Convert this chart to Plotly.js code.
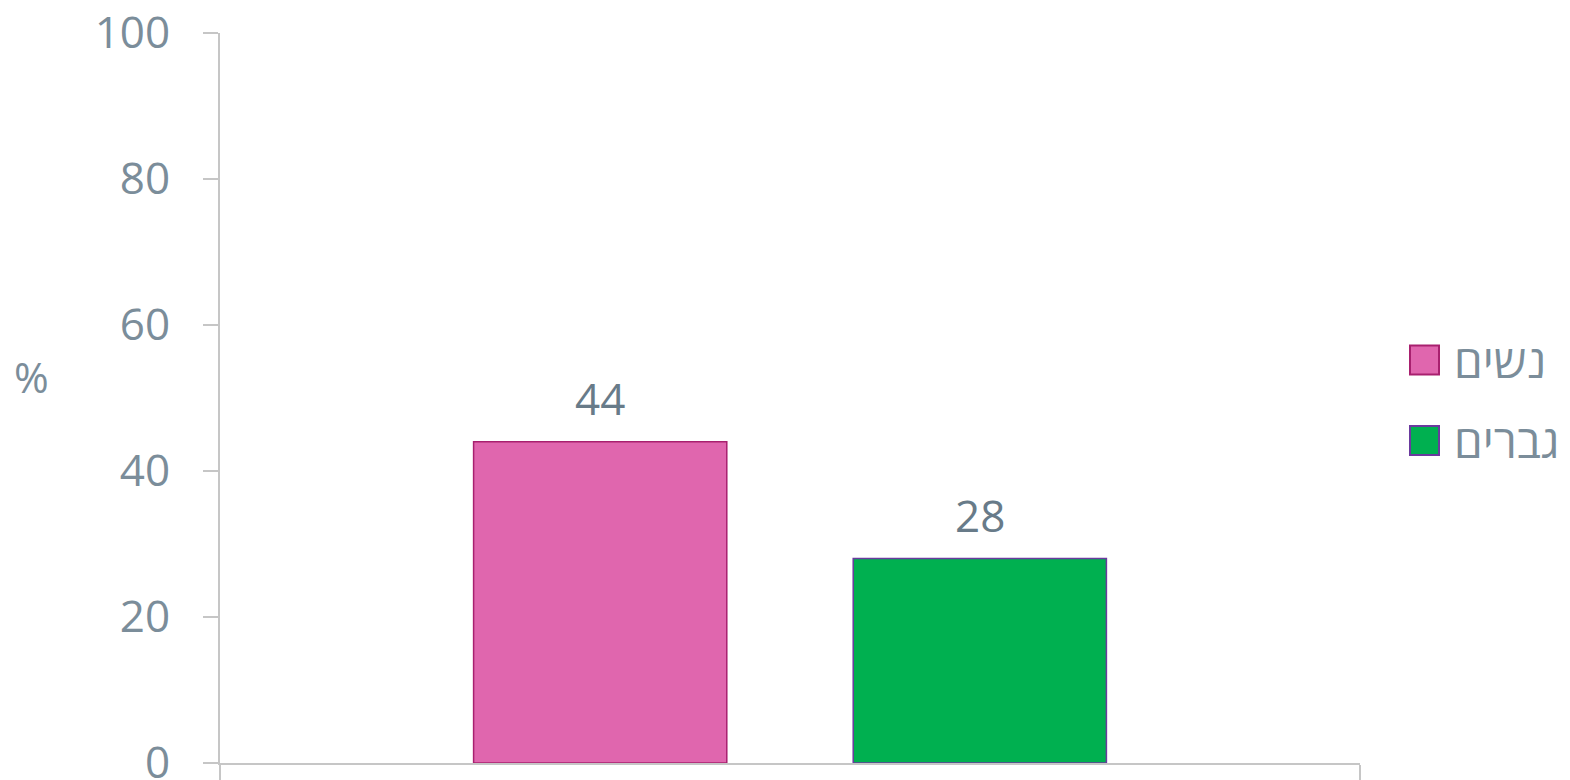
<!DOCTYPE html>
<html>
<head>
<meta charset="utf-8">
<script src="https://cdn.plot.ly/plotly-3.0.1.min.js"></script>
<style>html,body{margin:0;padding:0;background:#fff;}#chart{width:1570px;height:780px;}</style>
</head>
<body>
<div id="chart"></div>
<script>
// Data
const category = ['סך הכול'];
const seriesNames = ['נשים', 'גברים'];
const womenValues = [44];
const menValues = [28];
const yTickValues = [0, 20, 40, 60, 80, 100];
const yTickLabels = ['0', '20', '40', '60', '80', '100'];
const yUnit = '%';

const fillColors = ['#e066ae', '#00b050'];
const lineColors = ['#a8206f', '#6a3a9e'];
const FONT = '"Open Sans", "Noto Sans", "DejaVu Sans", sans-serif';
const tickColor = '#7b8d9a';
const labelColor = '#687b89';

const W = 1570, H = 780;
const margin = {l: 220, r: 210, t: 33, b: 17};
const plotW = W - margin.l - margin.r;
const plotH = H - margin.t - margin.b;
const bargap = 0.334;
const bargroupgap = 0.333;

const series = [womenValues, menValues];
const traces = series.map((vals, i) => ({
  type: 'bar',
  name: seriesNames[i],
  x: category,
  y: vals,
  marker: {color: fillColors[i], line: {color: lineColors[i], width: 1.5}},
  hoverinfo: 'skip',
  showlegend: false
}));

// value labels, positioned over each bar of the group
const slot = plotW * (1 - bargap) / series.length;
const annotations = [];
series.forEach((vals, i) => {
  vals.forEach((v, j) => {
    annotations.push({
      x: category[j], y: v, xref: 'x', yref: 'y',
      xshift: (i - (series.length - 1) / 2) * slot,
      yanchor: 'bottom', yshift: 12,
      text: String(v), showarrow: false,
      font: {family: FONT, size: 44, color: labelColor}
    });
  });
});

// custom legend
const shapes = [];
const legendY = [0.552, 0.4418];
const sq = 29;
seriesNames.forEach((name, i) => {
  const x0 = (1410 - margin.l) / plotW;
  const x1 = x0 + sq / plotW;
  const yc = legendY[i];
  shapes.push({
    type: 'rect', xref: 'paper', yref: 'paper',
    x0: x0, x1: x1, y0: yc - sq / 2 / plotH, y1: yc + sq / 2 / plotH,
    fillcolor: fillColors[i], line: {color: lineColors[i], width: 2}
  });
  annotations.push({
    xref: 'paper', yref: 'paper', x: (1452 - margin.l) / plotW, y: yc,
    xanchor: 'left', yanchor: 'middle', showarrow: false,
    text: name, font: {family: FONT, size: 46, color: tickColor}
  });
});

// y unit label
annotations.push({
  xref: 'paper', yref: 'paper', x: (32 - margin.l) / plotW, y: (763 - 376) / plotH,
  xanchor: 'center', yanchor: 'middle', showarrow: false,
  text: yUnit, font: {family: FONT, size: 42, color: tickColor}
});

const layout = {
  width: W, height: H,
  margin: margin,
  paper_bgcolor: '#ffffff', plot_bgcolor: '#ffffff',
  barmode: 'group', bargap: bargap, bargroupgap: bargroupgap,
  showlegend: false,
  font: {family: FONT, color: tickColor},
  xaxis: {
    type: 'category', showticklabels: false, tickson: 'boundaries',
    ticks: 'outside', ticklen: 15, tickcolor: '#c6c6c6', tickwidth: 2,
    showline: true, linecolor: '#c6c6c6', linewidth: 2,
    showgrid: false, zeroline: false, fixedrange: true
  },
  yaxis: {
    range: [0, 100], tickvals: yTickValues, ticktext: yTickLabels,
    ticks: 'outside', ticklen: 15, tickcolor: '#c6c6c6', tickwidth: 2,
    ticklabelstandoff: 24, ticklabeloverflow: 'allow',
    showline: true, linecolor: '#c6c6c6', linewidth: 2,
    showgrid: false, zeroline: false, fixedrange: true,
    tickfont: {family: FONT, size: 44, color: tickColor}
  },
  shapes: shapes,
  annotations: annotations
};

Plotly.newPlot('chart', traces, layout, {displayModeBar: false, staticPlot: true});
</script>
</body>
</html>
